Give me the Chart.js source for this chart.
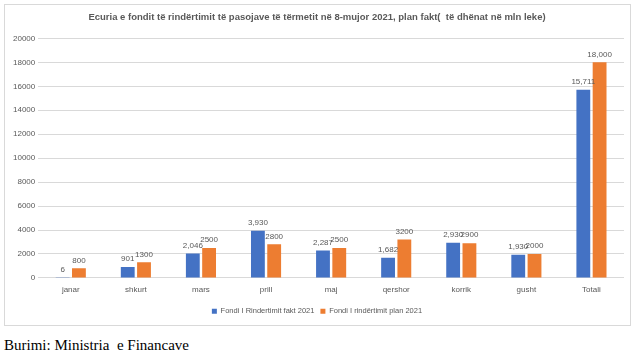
<!DOCTYPE html>
<html>
<head>
<meta charset="utf-8">
<script src="https://cdn.jsdelivr.net/npm/chart.js@4/dist/chart.umd.min.js"></script>
<style>
  html, body { margin: 0; padding: 0; background: #ffffff; }
  body { width: 640px; height: 358px; position: relative; overflow: hidden; }
  #box { position: absolute; left: 4px; top: 4px; width: 627px; height: 322px; border: 1px solid #d9d9d9; box-sizing: border-box; }
  #wrap { position: absolute; left: 0; top: 0; width: 625px; height: 320px; }
  #src { position: absolute; left: 4px; top: 337px; font-family: "Liberation Serif", "Times New Roman", serif; font-size: 15px; color: #000; white-space: pre; }
</style>
</head>
<body>
<div id="box"><div id="wrap"><canvas id="c"></canvas></div></div>
<div id="src">Burimi: Ministria  e Financave</div>
<script>
const categories = ["janar", "shkurt", "mars", "prill", "maj", "qershor", "korrik", "gusht", "Totali"];
const faktValues = [6, 901, 2046, 3930, 2287, 1682, 2930, 1930, 15711];
const planValues = [800, 1300, 2500, 2800, 2500, 3200, 2900, 2000, 18000];
const faktLabels = ["6", "901", "2,046", "3,930", "2,287", "1,682", "2,930", "1,930", "15,711"];
const planLabels = ["800", "1300", "2500", "2800", "2500", "3200", "2900", "2000", "18,000"];
const yTicks = [0, 2000, 4000, 6000, 8000, 10000, 12000, 14000, 16000, 18000, 20000];
const titleText = "Ecuria e fondit të rindërtimit të pasojave të tërmetit në 8-mujor 2021, plan fakt(  të dhënat në mln leke)";
const seriesNames = ["Fondi I Rindertimit fakt 2021", "Fondi I rindërtimit plan 2021"];

const valueLabels = {
  id: "valueLabels",
  afterDatasetsDraw(chart) {
    const ctx = chart.ctx;
    const texts = [faktLabels, planLabels];
    ctx.save();
    ctx.font = "8px 'Liberation Sans', Arial, sans-serif";
    ctx.fillStyle = "#595959";
    ctx.textAlign = "center";
    ctx.textBaseline = "bottom";
    chart.data.datasets.forEach((ds, di) => {
      const meta = chart.getDatasetMeta(di);
      meta.data.forEach((el, i) => {
        ctx.fillText(texts[di][i], el.x, el.y - 4);
      });
    });
    ctx.restore();
  }
};

new Chart(document.getElementById("c"), {
  type: "bar",
  data: {
    labels: categories,
    datasets: [
      { label: seriesNames[0], data: faktValues, backgroundColor: "#4472C4", barPercentage: 0.85, categoryPercentage: 0.5 },
      { label: seriesNames[1], data: planValues, backgroundColor: "#ED7D31", barPercentage: 0.85, categoryPercentage: 0.5 }
    ]
  },
  options: {
    responsive: true,
    maintainAspectRatio: false,
    animation: false,
    layout: { padding: { left: 5, right: 6, top: 5, bottom: 0 } },
    plugins: {
      title: {
        display: true,
        text: titleText,
        color: "#595959",
        font: { family: "'Liberation Sans', Arial, sans-serif", size: 9.5, weight: "bold" },
        padding: { top: 2, bottom: 15 }
      },
      legend: {
        position: "bottom",
        labels: {
          boxWidth: 5, boxHeight: 5,
          color: "#595959",
          font: { family: "'Liberation Sans', Arial, sans-serif", size: 7.5 },
          padding: 6
        }
      },
      tooltip: { enabled: false }
    },
    scales: {
      x: {
        grid: { display: false, drawTicks: false },
        border: { display: false },
        ticks: { color: "#595959", padding: 7, font: { family: "'Liberation Sans', Arial, sans-serif", size: 8 } }
      },
      y: {
        min: 0, max: 20000,
        afterBuildTicks(axis) { axis.ticks = yTicks.map(v => ({ value: v })); },
        grid: { color: "#d9d9d9", drawTicks: false },
        border: { display: false },
        ticks: { color: "#595959", padding: 3, callback: v => String(v), font: { family: "'Liberation Sans', Arial, sans-serif", size: 8 } }
      }
    }
  },
  plugins: [valueLabels]
});
</script>
</body>
</html>
